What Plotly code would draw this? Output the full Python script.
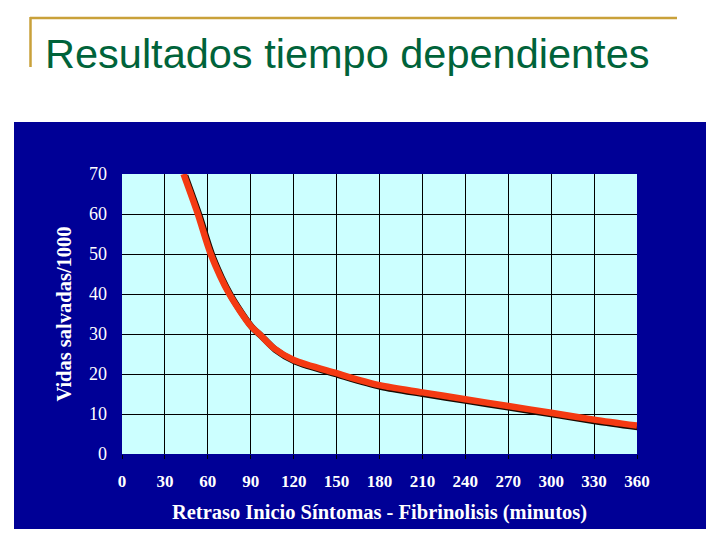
import plotly.graph_objects as go

title_text = "Resultados tiempo dependientes"
x_title = "Retraso Inicio Síntomas - Fibrinolisis (minutos)"
y_title = "Vidas salvadas/1000"

minutes = [43, 53, 62, 75, 90, 96, 106, 120, 150, 180, 210, 240, 270, 300, 330, 360]
lives = [70, 60, 50, 40, 32, 30, 26.5, 23.5, 20.2, 17.2, 15.4, 13.7, 12.0, 10.3, 8.6, 7.1]

x_ticks = list(range(0, 361, 30))
y_ticks = list(range(0, 71, 10))

W, H = 720, 540
L, R, T, B = 122, 83, 174, 86
pw, ph = W - L - R, H - T - B
xmin, xmax = 0, 360
ymin, ymax = 0, 70
xs = (xmax - xmin) / pw
ys = (ymax - ymin) / ph
shadow_px = 1.6

BLUE = "#000096"
CYAN = "#CCFFFF"
RED = "#F43A12"
GOLD = "#C9A13A"
GREEN = "#00633A"


def px_x(p):
    return (p - L) / pw


def px_y(p):
    return (H - B - p) / ph


fig = go.Figure()
# transparent carrier trace so the main (tick-bearing) subplot exists
fig.add_trace(go.Scatter(x=minutes, y=lives, mode="lines",
                         line=dict(color="rgba(0,0,0,0)", width=1),
                         hoverinfo="skip", showlegend=False))
# shadow line on slightly shifted overlay axes
fig.add_trace(go.Scatter(x=minutes, y=lives, mode="lines", xaxis="x2", yaxis="y2",
                         line=dict(color="#1a0a00", width=6.5, shape="spline", smoothing=0.8),
                         hoverinfo="skip", showlegend=False))
fig.add_trace(go.Scatter(x=minutes, y=lives, mode="lines", xaxis="x3", yaxis="y3",
                         line=dict(color=RED, width=6.5, shape="spline", smoothing=0.8),
                         showlegend=False))

tickfont_x = dict(family="Liberation Serif", size=17, color="white")
fig.update_layout(
    width=W, height=H,
    margin=dict(l=L, r=R, t=T, b=B),
    paper_bgcolor="white",
    plot_bgcolor=CYAN,
    xaxis=dict(range=[xmin, xmax], tickvals=x_ticks, ticktext=[f"<b>{v}</b>" for v in x_ticks],
               showgrid=True, gridcolor="black", gridwidth=1.2, zeroline=False,
               showline=False, ticks="outside", ticklen=4, tickcolor="black",
               ticklabelstandoff=8, tickfont=tickfont_x,
               title=dict(text=f"<b>{x_title}</b>", standoff=14,
                          font=dict(family="Liberation Serif", size=20.5, color="white"))),
    yaxis=dict(range=[ymin, ymax], tickvals=y_ticks, showgrid=True, gridcolor="black",
               gridwidth=1.2, zeroline=False, showline=False, ticks="",
               ticklabelstandoff=14,
               tickfont=dict(family="Liberation Serif", size=18, color="white"),
               title=dict(text=f"<b>{y_title}</b>", standoff=11,
                          font=dict(family="Liberation Serif", size=20.5, color="white"))),
    xaxis2=dict(range=[xmin - shadow_px * xs, xmax - shadow_px * xs], overlaying="x",
                visible=False),
    yaxis2=dict(range=[ymin + shadow_px * ys, ymax + shadow_px * ys], overlaying="y",
                visible=False),
    xaxis3=dict(range=[xmin, xmax], overlaying="x", visible=False),
    yaxis3=dict(range=[ymin, ymax], overlaying="y", visible=False),
    shapes=[
        dict(type="rect", xref="paper", yref="paper", layer="below",
             x0=px_x(14), x1=px_x(706), y0=px_y(529), y1=px_y(122),
             fillcolor=BLUE, line=dict(width=0)),
        dict(type="rect", xref="paper", yref="paper", layer="below",
             x0=0, x1=1, y0=0, y1=1, fillcolor=CYAN, line=dict(width=0)),
        dict(type="line", xref="paper", yref="paper",
             x0=px_x(30), x1=px_x(677), y0=px_y(18), y1=px_y(18),
             line=dict(color=GOLD, width=2.5)),
        dict(type="line", xref="paper", yref="paper",
             x0=px_x(30.5), x1=px_x(30.5), y0=px_y(17), y1=px_y(67),
             line=dict(color=GOLD, width=2.5)),
    ],
    annotations=[
        dict(text=title_text, xref="paper", yref="paper", x=px_x(43), y=px_y(53),
             xanchor="left", yanchor="middle", showarrow=False,
             font=dict(family="Liberation Sans", size=41.5, color=GREEN)),
    ],
)

fig.write_html("out.html")
